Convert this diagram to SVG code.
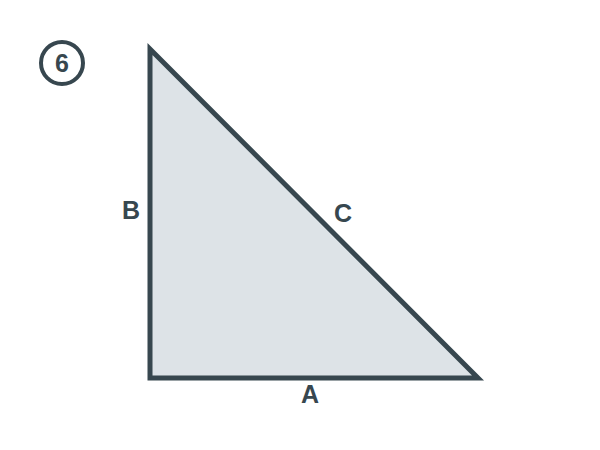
<svg xmlns="http://www.w3.org/2000/svg" width="600" height="450" viewBox="0 0 600 450">
<style>
.lbl{font-family:"Liberation Sans",Arial,sans-serif;font-weight:bold;font-size:25px;fill:#37474f;text-anchor:middle}
</style>
<rect width="600" height="450" fill="#ffffff"/>
<g id="badge">
<circle cx="62" cy="63" r="21" fill="none" stroke="#37474f" stroke-width="4"/>
<text class="lbl" x="62" y="72">6</text>
</g>
<g id="triangle">
<polygon points="150,49 150,378 478,378" fill="#dde3e7" stroke="#37474f" stroke-width="5" stroke-linejoin="miter"/>
</g>
<g id="labels">
<text class="lbl" x="131" y="219">B</text>
<text class="lbl" x="343" y="222">C</text>
<text class="lbl" x="310" y="403">A</text>
</g>
</svg>
